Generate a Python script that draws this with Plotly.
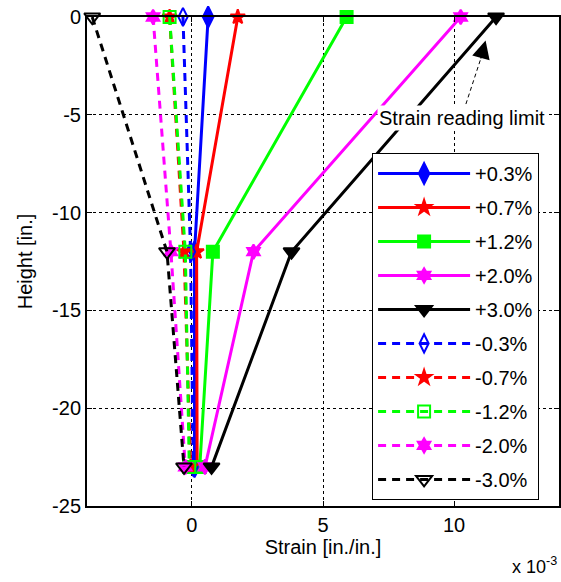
import plotly.graph_objects as go

heights = [0, -12, -23]
labels = ["+0.3%", "+0.7%", "+1.2%", "+2.0%", "+3.0%",
          "-0.3%", "-0.7%", "-1.2%", "-2.0%", "-3.0%"]
s_p03 = [0.62, 0.10, 0.10]
s_p07 = [1.75, 0.18, 0.20]
s_p12 = [5.90, 0.80, 0.30]
s_p20 = [10.25, 2.35, 0.50]
s_p30 = [11.60, 3.80, 0.75]
s_m03 = [-0.34, -0.05, 0.05]
s_m07 = [-0.85, -0.30, -0.05]
s_m12 = [-0.85, -0.25, -0.10]
s_m20 = [-1.48, -0.80, -0.25]
s_m30 = [-3.80, -0.95, -0.30]
series = [s_p03, s_p07, s_p12, s_p20, s_p30, s_m03, s_m07, s_m12, s_m20, s_m30]
colors = ["#0000FF", "#FF0000", "#00FF00", "#FF00FF", "#000000"] * 2
symbols = ["diamond-tall", "star", "square", "hexagram", "triangle-down",
           "diamond-tall-open", "star", "square-open", "hexagram", "triangle-down-open"]
sizes = [15, 11, 12, 11, 14, 13, 11, 12, 11, 14]

x_ticks = [0, 5, 10]
x_ticklabels = ["0", "5", "10"]
y_ticks = [-25, -20, -15, -10, -5, 0]
y_ticklabels = ["-25", "-20", "-15", "-10", "-5", "0"]

FONT = "Liberation Sans, Arial, sans-serif"
FS = 20
fig = go.Figure()
for i, (lab, vals) in enumerate(zip(labels, series)):
    dashed = i >= 5
    fig.add_trace(go.Scatter(
        x=vals, y=heights, mode="lines+markers", name=lab,
        legendgroup=f"g{i}",
        line=dict(color=colors[i], width=3, dash="8px,6px" if dashed else "solid"),
        marker=dict(symbol=symbols[i], size=sizes[i], color=colors[i],
                    line=dict(color=colors[i], width=2)),
        cliponaxis=False,
    ))

axis_common = dict(showline=True, linecolor="black", linewidth=2, mirror="ticks",
                   ticks="inside", ticklen=5, tickcolor="black", automargin=False,
                   showgrid=True, gridcolor="black", gridwidth=1, griddash="dot",
                   zeroline=False, tickfont=dict(family=FONT, size=FS, color="black"))

fig.update_layout(
    width=561, height=582,
    margin=dict(l=87, r=2, t=17, b=76),
    paper_bgcolor="white", plot_bgcolor="white",
    font=dict(family=FONT, size=FS, color="black"),
    xaxis=dict(range=[-4, 14], tickvals=x_ticks, ticktext=x_ticklabels,
               title=dict(text="Strain [in./in.]", font=dict(size=FS), standoff=2),
               **axis_common),
    yaxis=dict(range=[-25, 0], tickvals=y_ticks, ticktext=y_ticklabels,
               title=dict(text="Height [in.]", font=dict(size=FS), standoff=14),
               **axis_common),
    legend=dict(x=0.604, y=0.722, xanchor="left", yanchor="top",
                bgcolor="white", bordercolor="black", borderwidth=1,
                font=dict(family=FONT, size=FS, color="black"),
                tracegroupgap=5, itemwidth=92, traceorder="grouped"),
    showlegend=True,
)

# "Strain reading limit" annotation with dashed arrow
fig.add_shape(type="line", xref="x", yref="y", x0=10.45, y0=-4.45, x1=11.0, y1=-2.2,
              line=dict(color="black", width=1, dash="4px,3px"))
fig.add_annotation(x=11.2, y=-1.2, ax=11.0, ay=-2.2, xref="x", yref="y",
                   axref="x", ayref="y", text="", showarrow=True,
                   arrowhead=2, arrowsize=3, arrowwidth=1.2, arrowcolor="black")
fig.add_annotation(x=10.3, y=-5.15, xref="x", yref="y", text="Strain reading limit",
                   showarrow=False, bgcolor="white",
                   font=dict(family=FONT, size=FS, color="black"))
fig.add_annotation(x=1.0, y=0, xref="paper", yref="paper", xanchor="right", yanchor="middle",
                   yshift=-59, text="x 10<sup>-3</sup>", showarrow=False,
                   font=dict(family=FONT, size=FS - 2, color="black"))

fig.write_html("out.html", config={"displayModeBar": False},
               post_script="document.body.style.margin='0';document.body.style.overflow='hidden';")
